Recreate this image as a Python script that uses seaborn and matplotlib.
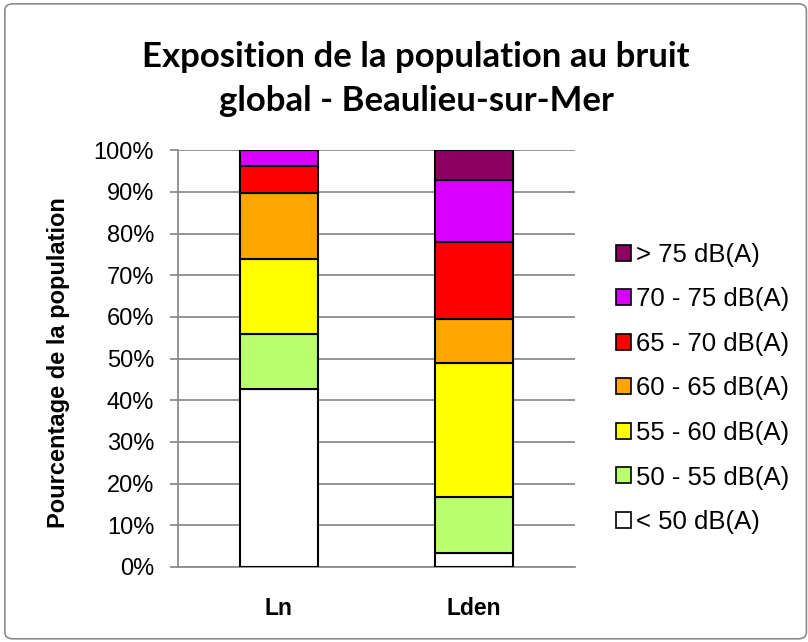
import numpy as np
import pandas as pd
import matplotlib
matplotlib.use('Agg')
import matplotlib.pyplot as plt
import matplotlib.patches as mpatches
from matplotlib.patches import FancyBboxPatch
from matplotlib.ticker import PercentFormatter
import seaborn as sns

# ── Data (percent of population per noise band) ────────────────────────────────
INDICATORS = ['Ln', 'Lden']
BANDS  = ['< 50 dB(A)', '50 - 55 dB(A)', '55 - 60 dB(A)', '60 - 65 dB(A)',
          '65 - 70 dB(A)', '70 - 75 dB(A)', '> 75 dB(A)']
LN     = [42.7, 13.1, 18.2, 15.8, 6.4, 3.8, 0.0]
LDEN   = [3.3, 13.5, 32.1, 10.6, 18.4, 14.9, 7.2]
COLORS = ['#FFFFFF', '#BBFF6F', '#FFFF00', '#FFA500', '#FF0000', '#D800FF', '#8E0061']

# ── Style ───────────────────────────────────────────────────────────────────────
sns.set_theme(style='white')
plt.rcParams['font.family'] = ['Liberation Sans', 'DejaVu Sans']
plt.rcParams.update({'text.color': 'black', 'axes.labelcolor': 'black'})

df = pd.DataFrame({'indicator': INDICATORS * len(BANDS),
                   'band': np.repeat(BANDS, len(INDICATORS)),
                   'value': [v for pair in zip(LN, LDEN) for v in pair]})

fig = plt.figure(figsize=(8.08, 6.42), dpi=100)
ax = fig.add_axes([0.220, 0.117, 0.492, 0.649])

bottom = np.zeros(len(INDICATORS))
for band, color in zip(BANDS, COLORS):
    sub = df[df['band'] == band].set_index('indicator').loc[INDICATORS]
    sns.barplot(x=INDICATORS, y=sub['value'].values, color=color, ax=ax,
                width=0.4, bottom=bottom, edgecolor='black', linewidth=1.5,
                saturation=1, zorder=3)
    bottom += sub['value'].values

ax.set_ylim(0, 100)
ax.set_xlim(-0.518, 1.518)
ax.set_yticks(range(0, 101, 10))
ax.yaxis.set_major_formatter(PercentFormatter(decimals=0))
ax.grid(axis='y', color='#8C8C8C', linewidth=1.3, zorder=0)
for side in ['top', 'right']:
    ax.spines[side].set_visible(False)
for side in ['left', 'bottom']:
    ax.spines[side].set_color('#8C8C8C')
    ax.spines[side].set_linewidth(1.3)
ax.tick_params(axis='y', which='major', left=True, length=6, width=1.3,
               color='#8C8C8C', labelcolor='black', labelsize=17, pad=11)
ax.tick_params(axis='x', bottom=False, labelcolor='black', labelsize=16.5, pad=16)
for lab in ax.get_xticklabels():
    lab.set_fontweight('bold')

ax.set_ylabel('Pourcentage de la population', fontsize=17, fontweight='bold')
ax.yaxis.set_label_coords(-0.272, 0.49)
ax.set_xlabel('')

fig.suptitle('Exposition de la population au bruit\nglobal - Beaulieu-sur-Mer',
             x=0.515, y=0.936, fontsize=25, fontweight='bold',
             family=['Lato', 'DejaVu Sans'], linespacing=1.45)

handles = [mpatches.Patch(facecolor=c, edgecolor='black', linewidth=1.2, label=b)
           for b, c in zip(BANDS, COLORS)][::-1]
leg = fig.legend(handles=handles, loc='center left', bbox_to_anchor=(0.762, 0.395),
                 frameon=False, fontsize=18.5, handlelength=0.58, handleheight=0.58,
                 handletextpad=0.2, labelspacing=0.8, borderpad=0, borderaxespad=0)

fig.patches.append(FancyBboxPatch((0.006, 0.005), 0.992, 0.989,
                                  boxstyle='round,pad=0,rounding_size=0.01',
                                  transform=fig.transFigure, facecolor='none',
                                  edgecolor='#8C8C8C', linewidth=1.2))

plt.savefig('out.png', dpi=100)
